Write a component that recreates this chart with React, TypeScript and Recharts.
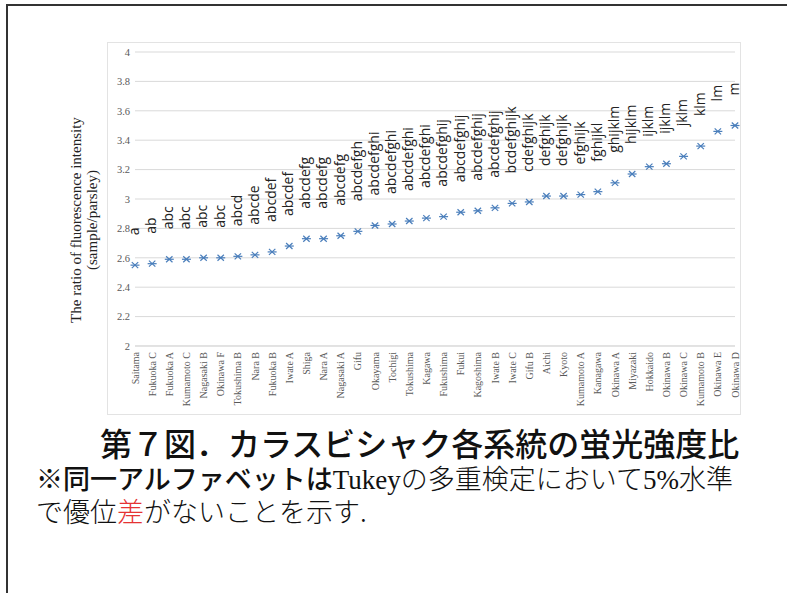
import React from 'react';
import { ComposedChart, Scatter, XAxis, YAxis, CartesianGrid } from 'recharts';

// strains, ordered from the lowest to the highest ratio
const strains = [
  'Saitama', 'Fukuoka C', 'Fukuoka A', 'Kumamoto C', 'Nagasaki B', 'Okinawa F',
  'Tokushima B', 'Nara B', 'Fukuoka B', 'Iwate A', 'Shiga', 'Nara A',
  'Nagasaki A', 'Gifu', 'Okayama', 'Tochigi', 'Tokushima', 'Kagawa',
  'Fukushima', 'Fukui', 'Kagoshima', 'Iwate B', 'Iwate C', 'Gifu B',
  'Aichi', 'Kyoto', 'Kumamoto A', 'Kanagawa', 'Okinawa A', 'Miyazaki',
  'Hokkaido', 'Okinawa B', 'Okinawa C', 'Kumamoto B', 'Okinawa E', 'Okinawa D',
];

// fluorescence ratio (sample/parsley)
const ratios = [
  2.55, 2.56, 2.59, 2.59, 2.6, 2.6,
  2.61, 2.62, 2.64, 2.68, 2.73, 2.73,
  2.75, 2.78, 2.82, 2.83, 2.85, 2.87,
  2.88, 2.91, 2.92, 2.94, 2.97, 2.98,
  3.02, 3.02, 3.03, 3.05, 3.11, 3.17,
  3.22, 3.24, 3.29, 3.36, 3.46, 3.5,
];

// Tukey groupings (p < 0.05)
const groups = [
  'a', 'ab', 'abc', 'abc', 'abc', 'abc',
  'abcd', 'abcde', 'abcdef', 'abcdef', 'abcdefg', 'abcdefg',
  'abcdefg', 'abcdefgh', 'abcdefghi', 'abcdefghi', 'abcdefghi', 'abcdefghi',
  'abcdefghij', 'abcdefghij', 'abcdefghij', 'abcdefghij', 'bcdefghijk', 'cdefghijk',
  'defghijk', 'defghijk', 'efghijk', 'fghijkl', 'ghijklm', 'hijklm',
  'ijklm', 'ijklm', 'jklm', 'klm', 'lm', 'm',
];

const yTicks = [2, 2.2, 2.4, 2.6, 2.8, 3, 3.2, 3.4, 3.6, 3.8, 4];

const rows = strains.map((name, i) => ({ name, ratio: ratios[i], group: groups[i] }));

const SERIF = "'Liberation Serif', 'Times New Roman', serif";
const GOTHIC = "'Noto Sans CJK JP', sans-serif";
const MARKER = '#4a7ebb';
const labelGap = 30;

const StarPoint = (props: any) => {
  const { cx, cy, payload } = props;
  return (
    <g>
      <g stroke={MARKER} strokeWidth={1.2}>
        <line x1={cx - 4.5} y1={cy} x2={cx + 4.5} y2={cy} />
        <line x1={cx - 3.2} y1={cy - 3} x2={cx + 3.2} y2={cy + 3} />
        <line x1={cx - 3.2} y1={cy + 3} x2={cx + 3.2} y2={cy - 3} />
      </g>
      <text
        transform={`translate(${cx + 3.8},${cy - labelGap}) rotate(-90)`}
        fontFamily="'Open Sans', sans-serif"
        fontSize={14}
        fill="#222"
      >
        {payload.group}
      </text>
    </g>
  );
};

const StrainTick = (props: any) => {
  const { x, y, payload } = props;
  return (
    <text
      transform={`translate(${x + 3.5},${y}) rotate(-90)`}
      textAnchor="end"
      fontFamily={SERIF}
      fontSize={10}
      fill="#595959"
    >
      {payload.value}
    </text>
  );
};

const abs = (left: number, top: number, extra: React.CSSProperties = {}): React.CSSProperties => ({
  position: 'absolute',
  left,
  top,
  whiteSpace: 'nowrap',
  ...extra,
});

// inline runs keep the line box at 27px so mixed fonts don't grow it
const run = (fontFamily: string, fontWeight: number, color = '#111'): React.CSSProperties => ({
  display: 'inline-block',
  lineHeight: '27px',
  fontFamily,
  fontWeight,
  color,
});

export default function App() {
  return (
    <div style={{ position: 'absolute', left: 0, top: 0, width: 787, height: 593, background: '#fff', overflow: 'hidden' }}>
      {/* slide frame */}
      <div style={abs(6, 4, { width: 781, height: 2, background: '#333' })} />
      <div style={abs(6, 4, { width: 2, height: 589, background: '#333' })} />

      {/* y-axis title */}
      <div
        style={abs(86 - 130, 220 - 18, {
          width: 260,
          height: 36,
          transform: 'rotate(-90deg)',
          textAlign: 'center',
          fontFamily: SERIF,
          fontSize: 15,
          lineHeight: '16px',
          color: '#222',
        })}
      >
        The ratio of fluorescence intensity
        <br />
        (sample/parsley)
      </div>

      <div style={abs(107, 42, { width: 634, height: 373, border: '1px solid #e3e3e3', boxSizing: 'border-box' })} />
      <div style={abs(107, 42)}>
        <ComposedChart width={634} height={373} data={rows} margin={{ top: 10, right: 6, bottom: 0, left: 0 }}>
          <CartesianGrid vertical={false} stroke="#d9d9d9" />
          <XAxis
            dataKey="name"
            type="category"
            height={69}
            interval={0}
            tickLine={false}
            tickSize={0}
            tickMargin={6}
            axisLine={{ stroke: '#d9d9d9' }}
            tick={<StrainTick />}
          />
          <YAxis
            type="number"
            domain={[2, 4]}
            ticks={yTicks}
            width={28}
            axisLine={false}
            tickLine={false}
            tickSize={0}
            tickMargin={5}
            tick={{ fontFamily: SERIF, fontSize: 10.5, fill: '#595959' }}
          />
          <Scatter dataKey="ratio" shape={<StarPoint />} isAnimationActive={false} />
        </ComposedChart>
      </div>

      {/* caption */}
      <div style={abs(100, 426, { fontFamily: GOTHIC, fontWeight: 500, fontSize: 32, lineHeight: '32px', height: 32, color: '#111' })}>
        第７図．カラスビシャク各系統の蛍光強度比
      </div>
      <div style={abs(36, 464, { fontSize: 27, lineHeight: '27px', height: 27 })}>
        <span style={run(GOTHIC, 500)}>※同一アルファベットは</span>
        <span style={run(SERIF, 400)}>Tukey</span>
        <span style={run(GOTHIC, 300)}>の多重検定において</span>
        <span style={run(SERIF, 400)}>5%</span>
        <span style={run(GOTHIC, 300)}>水準</span>
      </div>
      <div style={abs(36, 497, { fontSize: 27, lineHeight: '27px', height: 27 })}>
        <span style={run(GOTHIC, 300)}>で優位</span>
        <span style={run(GOTHIC, 300, '#e53333')}>差</span>
        <span style={run(GOTHIC, 300)}>がないことを示す.</span>
      </div>
    </div>
  );
}
